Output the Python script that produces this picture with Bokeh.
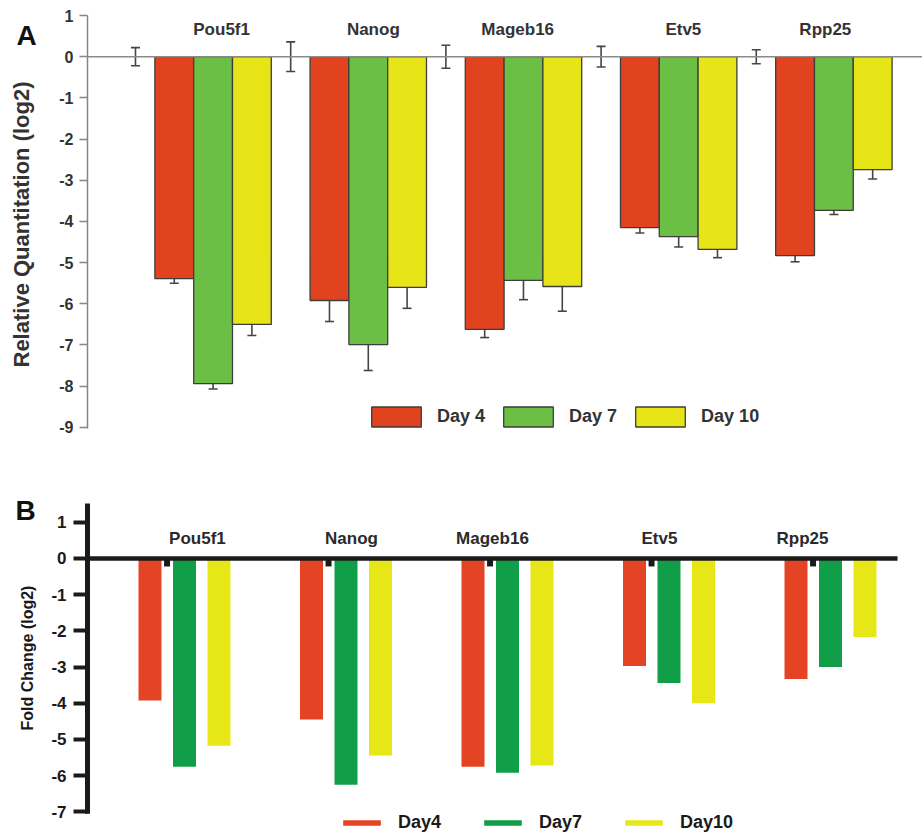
import numpy as np
from bokeh.plotting import figure
from bokeh.models import (ColumnDataSource, Whisker, TeeHead, Legend,
                          LegendItem, FixedTicker, Label)
from bokeh.layouts import column
from bokeh.embed import file_html
from bokeh.resources import INLINE
from bokeh.core.properties import value

# ---------------- data ----------------
genes = ["Pou5f1", "Nanog", "Mageb16", "Etv5", "Rpp25"]
days_a = ["Day 4", "Day 7", "Day 10"]
days_b = ["Day4", "Day7", "Day10"]

# Panel A: relative quantitation (log2), with error bars
a_day4 = [-5.39, -5.92, -6.62, -4.15, -4.83]
a_day7 = [-7.94, -6.99, -5.43, -4.37, -3.73]
a_day10 = [-6.50, -5.60, -5.58, -4.68, -2.74]
a_err_day4 = [0.11, 0.51, 0.20, 0.13, 0.15]
a_err_day7 = [0.13, 0.63, 0.47, 0.25, 0.10]
a_err_day10 = [0.27, 0.51, 0.60, 0.20, 0.23]
a_ctrl = [0.0, 0.0, 0.0, 0.0, 0.0]
a_err_ctrl = [0.22, 0.36, 0.28, 0.25, 0.17]

# Panel B: fold change (log2)
b_day4 = [-3.92, -4.45, -5.75, -2.97, -3.33]
b_day7 = [-5.75, -6.25, -5.92, -3.44, -3.00]
b_day10 = [-5.17, -5.44, -5.72, -4.00, -2.17]
b_ctrl_err = [0.22, 0.22, 0.22, 0.22, 0.22]

yticks_a = [-9, -8, -7, -6, -5, -4, -3, -2, -1, 0, 1]
yticks_b = [-7, -6, -5, -4, -3, -2, -1, 0, 1]

# ---------------- styles / layout ----------------
FONT = "Liberation Sans"
A_COLORS = ["#E2431F", "#6CBF45", "#E7E517"]
B_COLORS = ["#E44424", "#109E48", "#E7E616"]
A_LABEL_SHIFT = [0.22, 0.13, -0.15, 0.12, -0.22]
B_LABEL_SHIFT = [0.08, 0.034, -0.093, -0.059, -0.173]

W = 922
HA = 448
HB = 385

# panel A geometry (x in bar-slot units, 4 slots per gene)
A_XR = (-3.479, 20.284)
A_YR = (-9.514, 1.365)
A_AXIS_X = -1.237
A_AXIS_Y = (-9.03, 1.0)

# panel B geometry (x in gene units)
B_XR = (-1.1393, 4.5697)
B_YR = (-7.597, 2.099)
B_AXIS_X = -0.6006
B_AXIS_Y = (-7.05, 1.519)
B_ZERO_END = 4.415


def hyphen_labels(ticks):
    return {t: str(t) for t in ticks}


# ---------------- panel A ----------------
pa = figure(width=W, height=HA, x_range=A_XR, y_range=A_YR,
            output_backend="svg", toolbar_location=None, x_axis_location=None,
            min_border_left=0, min_border_right=0, min_border_top=0,
            min_border_bottom=0)
pa.outline_line_color = None
pa.grid.visible = False

g = np.arange(len(genes))
ctrl_x = 4 * g
xs_a = [4 * g + 1, 4 * g + 2, 4 * g + 3]
vals_a = [a_day4, a_day7, a_day10]
errs_a = [a_err_day4, a_err_day7, a_err_day10]

rend_a = []
for xx, vv, col in zip(xs_a, vals_a, A_COLORS):
    r = pa.vbar(x=xx, top=0, bottom=vv, width=1.0, fill_color=col,
                line_color="#3d3d3d", line_width=1.3)
    rend_a.append(r)

# zero line and axis line
pa.segment(x0=[A_AXIS_X], y0=[0], x1=[A_XR[1]], y1=[0], line_color="#8a8a8a", line_width=1.5)
pa.segment(x0=[A_AXIS_X], y0=[A_AXIS_Y[0]], x1=[A_AXIS_X], y1=[A_AXIS_Y[1]],
           line_color="#858585", line_width=1.5)

wx = np.concatenate([ctrl_x] + xs_a)
wy = np.concatenate([a_ctrl] + vals_a)
we = np.concatenate([a_err_ctrl] + errs_a)
wsrc = ColumnDataSource(dict(x=wx, upper=wy + we, lower=wy - we))
ecol = "#454545"
pa.add_layout(Whisker(source=wsrc, base="x", upper="upper", lower="lower",
                      line_color=ecol, line_width=1.6,
                      upper_head=TeeHead(size=9, line_color=ecol, line_width=1.6),
                      lower_head=TeeHead(size=9, line_color=ecol, line_width=1.6)))

pa.text(x=4 * g + 2 + np.array(A_LABEL_SHIFT), y=0.66, text=genes,
        text_align="center", text_baseline="middle",
        text_font=value(FONT), text_font_style="bold", text_font_size="17px",
        text_color="#333333")

ay = pa.yaxis[0]
ay.fixed_location = A_AXIS_X
ay.ticker = FixedTicker(ticks=yticks_a)
ay.major_label_overrides = hyphen_labels(yticks_a)
ay.axis_line_color = None
ay.major_tick_line_color = "#858585"
ay.major_tick_line_width = 1.5
ay.major_tick_out = 8
ay.major_tick_in = 0
ay.minor_tick_line_color = None
ay.major_label_text_font = FONT
ay.major_label_text_font_style = "bold"
ay.major_label_text_font_size = "16px"
ay.major_label_text_color = "#333333"
ay.major_label_standoff = 6
ay.axis_label = "Relative Quantitation (log2)"
ay.axis_label_text_font = FONT
ay.axis_label_text_font_style = "bold"
ay.axis_label_text_font_size = "22px"
ay.axis_label_text_color = "#333333"
ay.axis_label_standoff = 22

leg_a = Legend(items=[LegendItem(label=d, renderers=[r]) for d, r in zip(days_a, rend_a)],
               orientation="horizontal", location=(365, 19),
               glyph_width=62, glyph_height=25, label_standoff=10, spacing=12,
               padding=0, margin=0, border_line_color=None, background_fill_alpha=0,
               label_text_font=FONT, label_text_font_style="bold",
               label_text_font_size="18px", label_text_color="#333333")
pa.add_layout(leg_a)

pa.add_layout(Label(x=16, y=413, x_units="screen", y_units="screen", text="A",
                    text_font=FONT, text_font_style="bold", text_font_size="28px",
                    text_color="#111111", text_baseline="alphabetic"))

# ---------------- panel B ----------------
pb = figure(width=W, height=HB, x_range=B_XR, y_range=B_YR,
            output_backend="svg", toolbar_location=None, x_axis_location=None,
            min_border_left=0, min_border_right=0, min_border_top=34,
            min_border_bottom=0)
pb.outline_line_color = None
pb.grid.visible = False

off = 0.2136
bw = 0.1424
xs_b = [g - off, g * 1.0, g + off]
vals_b = [b_day4, b_day7, b_day10]
rend_b = []
for xx, vv, col in zip(xs_b, vals_b, B_COLORS):
    r = pb.vbar(x=xx, top=0, bottom=vv, width=bw, fill_color=col, line_color=None)
    rend_b.append(r)

pb.vbar(x=g - 0.108, top=0, bottom=-np.array(b_ctrl_err), width=0.037,
        fill_color="#1a1a1a", line_color=None)

pb.segment(x0=[B_AXIS_X], y0=[0], x1=[B_ZERO_END], y1=[0], line_color="#1a1a1a", line_width=4.5)
pb.segment(x0=[B_AXIS_X], y0=[B_AXIS_Y[0]], x1=[B_AXIS_X], y1=[B_AXIS_Y[1]],
           line_color="#1a1a1a", line_width=5)

pb.text(x=g + np.array(B_LABEL_SHIFT), y=0.556, text=genes,
        text_align="center", text_baseline="middle",
        text_font=value(FONT), text_font_style="bold", text_font_size="17px",
        text_color="#2a2a2a")

by = pb.yaxis[0]
by.fixed_location = B_AXIS_X
by.ticker = FixedTicker(ticks=yticks_b)
by.major_label_overrides = hyphen_labels(yticks_b)
by.axis_line_color = None
by.major_tick_line_color = "#1a1a1a"
by.major_tick_line_width = 4
by.major_tick_out = 14
by.major_tick_in = 0
by.minor_tick_line_color = None
by.major_label_text_font = FONT
by.major_label_text_font_style = "bold"
by.major_label_text_font_size = "17px"
by.major_label_text_color = "#1a1a1a"
by.major_label_standoff = 7
by.axis_label = "Fold Change (log2)"
by.axis_label_text_font = FONT
by.axis_label_text_font_style = "bold"
by.axis_label_text_font_size = "16px"
by.axis_label_text_color = "#1a1a1a"
by.axis_label_standoff = 12

leg_b = Legend(items=[LegendItem(label=d, renderers=[r]) for d, r in zip(days_b, rend_b)],
               orientation="horizontal", location=(338, 0),
               glyph_width=47, glyph_height=7, label_standoff=13, spacing=38,
               padding=0, margin=0, border_line_color=None, background_fill_alpha=0,
               label_text_font=FONT, label_text_font_style="bold",
               label_text_font_size="18px", label_text_color="#1a1a1a")
pb.add_layout(leg_b)

pb.add_layout(Label(x=15, y=323, x_units="screen", y_units="screen", text="B",
                    text_font=FONT, text_font_style="bold", text_font_size="28px",
                    text_color="#111111", text_baseline="alphabetic"))

layout = column(pa, pb, spacing=0)
open("out.html", "w").write(file_html(layout, INLINE))
